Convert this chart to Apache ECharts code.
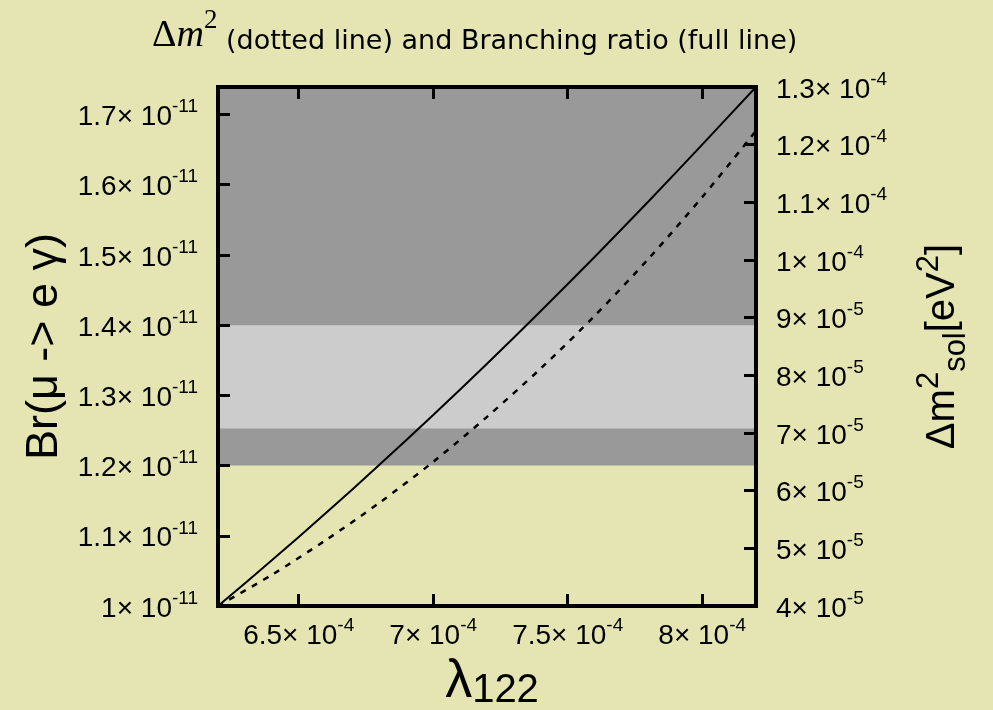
<!DOCTYPE html>
<html><head><meta charset="utf-8">
<script src="https://cdn.jsdelivr.net/npm/echarts@6/dist/echarts.min.js"></script>
<style>html,body{margin:0;padding:0;background:#e5e5b3}#c{width:993px;height:710px}</style>
</head><body><div id="c"></div>
<script>
// lambda_122 values (x)
const lambda122 = [6.2e-4, 6.4e-4, 6.6e-4, 6.8e-4, 7.0e-4, 7.2e-4, 7.4e-4, 7.6e-4, 7.8e-4, 8.0e-4, 8.2e-4];
// Br(mu -> e gamma), full line
const branchingRatio = [1.000e-11, 1.065e-11, 1.132e-11, 1.201e-11, 1.272e-11, 1.345e-11, 1.420e-11, 1.497e-11, 1.576e-11, 1.657e-11, 1.739e-11];
// Delta m^2_sol [eV^2], dotted line
const deltaM2 = [4.00e-5, 4.54e-5, 5.14e-5, 5.79e-5, 6.50e-5, 7.28e-5, 8.12e-5, 9.03e-5, 10.02e-5, 11.09e-5, 12.24e-5];
// shaded regions
const brExcluded = [1.2e-11, 1.739e-11];
const dmAllowed = [7.08e-5, 8.87e-5];
// axis ranges
const xRange = [6.2e-4, 8.2e-4];
const brRange = [1.0e-11, 1.739e-11];
const dmRange = [4.0e-5, 1.3e-4];
// tick values and labels
const xTicks = [6.5e-4, 7.0e-4, 7.5e-4, 8.0e-4];
const xTickMant = ['6.5', '7', '7.5', '8'];
const xTickExp = ['-4', '-4', '-4', '-4'];
const brTicks = [1.0e-11, 1.1e-11, 1.2e-11, 1.3e-11, 1.4e-11, 1.5e-11, 1.6e-11, 1.7e-11];
const brTickMant = ['1', '1.1', '1.2', '1.3', '1.4', '1.5', '1.6', '1.7'];
const brTickExp = ['-11', '-11', '-11', '-11', '-11', '-11', '-11', '-11'];
const dmTicks = [4e-5, 5e-5, 6e-5, 7e-5, 8e-5, 9e-5, 1.0e-4, 1.1e-4, 1.2e-4, 1.3e-4];
const dmTickMant = ['4', '5', '6', '7', '8', '9', '1', '1.1', '1.2', '1.3'];
const dmTickExp = ['-5', '-5', '-5', '-5', '-5', '-5', '-4', '-4', '-4', '-4'];

const SANS = 'Liberation Sans';
function fmt(ticks, mant, exp) {
  return function (v) {
    const i = ticks.findIndex(t => Math.abs(t - v) < Math.abs(t) * 1e-6);
    return i < 0 ? '' : '{b|' + mant[i] + '× 10}{s|' + exp[i] + '}';
  };
}
const tickRich = {
  b: { fontSize: 28, fontFamily: SANS, color: '#000', lineHeight: 34, verticalAlign: 'bottom' },
  s: { fontSize: 19, fontFamily: SANS, color: '#000', lineHeight: 14, verticalAlign: 'top' }
};
const lineSty = { color: '#000', width: 4, cap: 'square' };
const tickSty = { show: true, inside: true, length: 12, lineStyle: { color: '#000', width: 3 } };

const chart = echarts.init(document.getElementById('c'));
chart.setOption({
  backgroundColor: '#e5e5b3',
  animation: false,
  title: {
    text: '{d|Δ}{m|m}{p|2}{t| (dotted line) and Branching ratio (full line)}',
    left: 147, top: 2,
    textStyle: {
      fontWeight: 'normal',
      rich: {
        d: { fontFamily: 'Liberation Serif', fontWeight: 'normal', fontSize: 38, color: '#000', lineHeight: 48, verticalAlign: 'bottom' },
        m: { fontFamily: 'Liberation Serif', fontWeight: 'normal', fontStyle: 'italic', fontSize: 38, color: '#000', lineHeight: 48, verticalAlign: 'bottom' },
        p: { fontFamily: 'Liberation Serif', fontWeight: 'normal', fontSize: 27, color: '#000', lineHeight: 26, verticalAlign: 'top' },
        t: { fontFamily: 'DejaVu Sans', fontWeight: 'normal', fontSize: 27, color: '#000', lineHeight: 46, verticalAlign: 'bottom' }
      }
    }
  },
  grid: { left: 218, top: 87, width: 538, height: 519, show: false, containLabel: false, outerBoundsMode: 'none' },
  xAxis: [{
    type: 'value', min: xRange[0], max: xRange[1], position: 'bottom', z: 10,
    axisLine: { show: true, onZero: false, lineStyle: lineSty },
    axisTick: Object.assign({ customValues: xTicks }, tickSty),
    axisLabel: { customValues: xTicks, formatter: fmt(xTicks, xTickMant, xTickExp), margin: 10, rich: tickRich },
    splitLine: { show: false },
    name: '{a|λ}{b|122}', nameLocation: 'middle', nameGap: 40,
    nameTextStyle: {
      padding: [0, 0, 0, 10],
      rich: {
        a: { fontSize: 54, fontFamily: SANS, color: '#000', lineHeight: 44, verticalAlign: 'top' },
        b: { fontSize: 40, fontFamily: SANS, color: '#000', lineHeight: 56, verticalAlign: 'bottom' }
      }
    }
  }, {
    type: 'value', min: xRange[0], max: xRange[1], position: 'top', z: 10,
    axisLine: { show: true, onZero: false, lineStyle: lineSty },
    axisTick: Object.assign({ customValues: xTicks }, tickSty),
    axisLabel: { show: false },
    splitLine: { show: false }
  }],
  yAxis: [{
    type: 'value', min: brRange[0], max: brRange[1], position: 'left', z: 10,
    axisLine: { show: true, onZero: false, lineStyle: lineSty },
    axisTick: Object.assign({ customValues: brTicks }, tickSty),
    axisLabel: { customValues: brTicks, formatter: fmt(brTicks, brTickMant, brTickExp), margin: 20, rich: tickRich },
    splitLine: { show: false },
    name: 'Br(μ -> e γ)', nameLocation: 'middle', nameRotate: 90, nameGap: 150,
    nameTextStyle: { fontSize: 45, fontFamily: SANS, color: '#000' }
  }, {
    type: 'value', min: dmRange[0], max: dmRange[1], position: 'right', z: 10,
    axisLine: { show: true, onZero: false, lineStyle: lineSty },
    axisTick: Object.assign({ customValues: dmTicks }, tickSty),
    axisLabel: { customValues: dmTicks, formatter: fmt(dmTicks, dmTickMant, dmTickExp), margin: 20, rich: tickRich },
    splitLine: { show: false },
    name: '{a|Δm}{p|2}{b|sol}{a|[eV}{p|2}{a|]}', nameLocation: 'middle', nameRotate: 90, nameGap: 158,
    nameTextStyle: {
      rich: {
        a: { fontSize: 40, fontFamily: SANS, color: '#000', lineHeight: 58, verticalAlign: 'middle' },
        p: { fontSize: 31, fontFamily: SANS, color: '#000', lineHeight: 26, verticalAlign: 'top' },
        b: { fontSize: 31, fontFamily: SANS, color: '#000', lineHeight: 26, verticalAlign: 'bottom' }
      }
    }
  }],
  series: [{
    type: 'line', xAxisIndex: 0, yAxisIndex: 0, data: [], z: 1, silent: true,
    markArea: { silent: true, itemStyle: { color: '#999999' }, data: [[{ yAxis: brExcluded[0] }, { yAxis: brExcluded[1] }]] }
  }, {
    type: 'line', xAxisIndex: 0, yAxisIndex: 1, data: [], z: 2, silent: true,
    markArea: { silent: true, itemStyle: { color: '#cccccc' }, data: [[{ yAxis: dmAllowed[0] }, { yAxis: dmAllowed[1] }]] }
  }, {
    type: 'line', xAxisIndex: 0, yAxisIndex: 0, z: 5, showSymbol: false, smooth: 0.3,
    data: lambda122.map((x, i) => [x, branchingRatio[i]]),
    lineStyle: { color: '#000', width: 2 }
  }, {
    type: 'line', xAxisIndex: 0, yAxisIndex: 1, z: 5, showSymbol: false, smooth: 0.3,
    data: lambda122.map((x, i) => [x, deltaM2[i]]),
    lineStyle: { color: '#000', width: 2.5, type: [6, 7] }
  }]
});
</script></body></html>
